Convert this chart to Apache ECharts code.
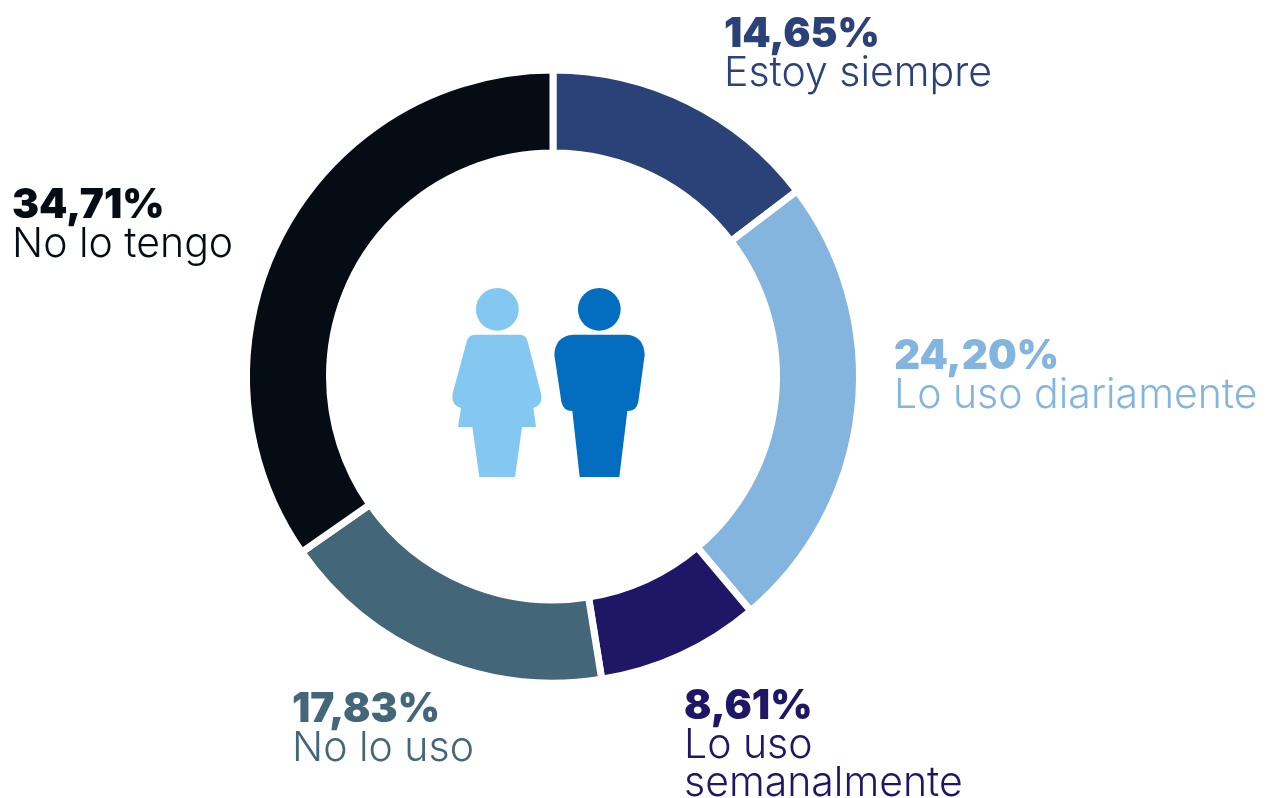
<!DOCTYPE html>
<html><head><meta charset="utf-8">
<style>html,body{margin:0;padding:0;background:#fff}#c{width:1275px;height:798px}</style>
<script src="https://cdn.jsdelivr.net/npm/echarts@6/dist/echarts.min.js"></script>
</head><body><div id="c"></div>
<script>
const categories = ['Estoy siempre','Lo uso diariamente','Lo uso\nsemanalmente','No lo uso','No lo tengo'];
const values = [14.65,24.20,8.61,17.83,34.71];
const valueLabels = ['14,65%','24,20%','8,61%','17,83%','34,71%'];
const colors = ['#2B4279','#84B5DF','#201666','#446679','#060C14'];
const labelAnchors = [[724,15],[894,337],[684,687],[292,690],[12,186]];
const FONT = 'Inter';
const rich = {};
colors.forEach((c,i)=>{
  rich['v'+i] = {fontFamily:FONT,fontWeight:900,fontSize:40.5,lineHeight:40,color:c};
  rich['n'+i] = {fontFamily:FONT,fontWeight:300,fontSize:41,lineHeight:38,color:c};
});
const womanPath = 'M135 194L270 194Q288 194 293 215L333 370Q340 405 310 414L318 471L276 471L255 621L148 621L127 471L84 471L93 414Q62 405 68 370L110 215Q115 194 135 194Z';
const manPath = 'M430 194L590 194Q642 198 644 255L625 395Q620 423 592 423L568 621L449 621L427 423Q400 423 394 395L373 255Q375 198 430 194Z';
echarts.graphic.registerShape('womanIcon', echarts.graphic.extendPath(womanPath,{}));
echarts.graphic.registerShape('manIcon', echarts.graphic.extendPath(manPath,{}));
const chart = echarts.init(document.getElementById('c'),null,{renderer:'canvas'});
chart.setOption({
  animation:false,
  backgroundColor:'#fff',
  series:[{
    type:'pie',
    center:[553,376.5],
    radius:[223.5,306.5],
    startAngle:90,
    clockwise:true,
    itemStyle:{borderColor:'#fff',borderWidth:7},
    emphasis:{disabled:true},
    labelLine:{show:false},
    label:{
      show:true,position:'outside',alignTo:'none',overflow:'none',
      formatter:p=>{
        const i=p.dataIndex;
        return '{v'+i+'|'+valueLabels[i]+'}\n'+categories[i].split('\n').map(s=>'{n'+i+'|'+s+'}').join('\n');
      },
      align:'left',rich
    },
    labelLayout:p=>({x:labelAnchors[p.dataIndex][0],y:labelAnchors[p.dataIndex][1],align:'left',verticalAlign:'top',hideOverlap:false}),
    data:categories.map((name,i)=>({name:name,value:values[i],itemStyle:{color:colors[i]}}))
  }],
  graphic:[
    {type:'circle',shape:{cx:497.3,cy:309.3,r:21.4},style:{fill:'#84C7F0'},silent:true},
    {type:'circle',shape:{cx:599.3,cy:309.3,r:21.4},style:{fill:'#036EC0'},silent:true},
    {type:'womanIcon',x:430,y:270,scaleX:1/3,scaleY:1/3,style:{fill:'#84C7F0'},silent:true},
    {type:'manIcon',x:430,y:270,scaleX:1/3,scaleY:1/3,style:{fill:'#036EC0'},silent:true}
  ]
});
</script></body></html>
